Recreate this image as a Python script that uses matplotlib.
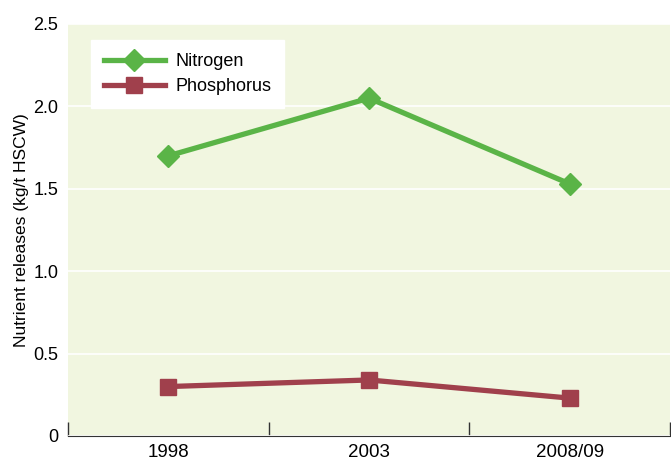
import numpy as np
import matplotlib.pyplot as plt

plt.rcParams['font.family'] = ['Liberation Sans', 'DejaVu Sans']

years = ['1998', '2003', '2008/09']
nitrogen = [1.70, 2.05, 1.53]
phosphorus = [0.30, 0.34, 0.23]

fig = plt.figure(figsize=(6.71, 4.62), dpi=100)
ax = fig.add_axes([68/671, 26/462, 602/671, 412/462])
ax.set_facecolor('#f1f6e0')

x = np.arange(len(years))
ax.plot(x, nitrogen, color='#5ab447', lw=3.8, marker='D', ms=11.5, label='Nitrogen')
ax.plot(x, phosphorus, color='#a0404c', lw=3.8, marker='s', ms=11, label='Phosphorus')

ax.set_xlim(-0.5, 2.5)
ax.set_ylim(0, 2.5)
ax.set_yticks([0, 0.5, 1.0, 1.5, 2.0, 2.5])
ax.set_yticklabels(['0', '0.5', '1.0', '1.5', '2.0', '2.5'], fontsize=13)
ax.grid(axis='y', color='white', lw=1.2)
ax.set_axisbelow(True)
ax.tick_params(axis='y', length=0, pad=7)

ax.set_xticks(x)
ax.set_xticklabels(years, fontsize=13.5)
ax.tick_params(axis='x', which='major', length=0, pad=6)
ax.set_xticks([-0.5, 0.5, 1.5, 2.5], minor=True)
ax.tick_params(axis='x', which='minor', direction='in', length=10, width=1, color='#333333')

for s in ['left', 'right', 'top']:
    ax.spines[s].set_visible(False)
ax.spines['bottom'].set_color('#333333')

ax.set_ylabel('Nutrient releases (kg/t HSCW)', fontsize=12.5, labelpad=3)

leg = ax.legend(loc='upper left', bbox_to_anchor=(0.038, 0.96), frameon=True,
                fancybox=False, fontsize=13, handlelength=3.4, borderpad=0.7,
                labelspacing=0.45, handletextpad=0.6, borderaxespad=0)
leg.get_frame().set_facecolor('white')
leg.get_frame().set_edgecolor('white')
leg.get_frame().set_alpha(1)

fig.savefig('out.png', dpi=100)
